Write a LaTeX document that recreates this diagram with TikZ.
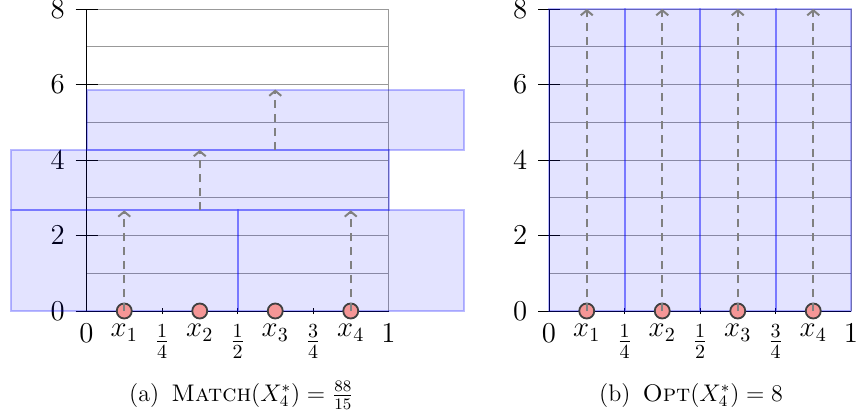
\documentclass[tikz,border=0pt]{standalone}
\usetikzlibrary{arrows.meta}
\definecolor{ptfill}{RGB}{245,150,150}
\tikzset{
  gridline/.style={black!40, line width=0.5pt},
  axisline/.style={black, line width=0.5pt},
  binbox/.style={fill=blue, fill opacity=0.11, draw=blue, draw opacity=0.27, line width=1pt},
  lift/.style={gray, line width=1pt, dash pattern=on 4pt off 3pt, -{Straight Barb[length=2.5pt,width=6pt]}},
  ball/.style={circle, fill=ptfill, draw=black!75, line width=0.9pt, minimum size=7.5pt, inner sep=0pt},
  ylab/.style={anchor=east, inner sep=0pt, font=\Large},
  xlab/.style={anchor=north, inner sep=0pt, font=\Large},
  captext/.style={anchor=base, inner sep=0pt, font=\large},
  panelaxes/.pic={
    \foreach \k in {1,...,8} \draw[gridline] (0,\k) -- (1,\k);
    \draw[gridline] (1,0) -- (1,8);
    \draw[axisline] (0,0) -- (0,8);
    \draw[axisline] (0,0) -- (1,0);
    \foreach \k in {0,2,4,6,8} {
      \draw[axisline] ([xshift=-5.5pt]0,\k) -- ([xshift=5.5pt]0,\k);
      \node[ylab] at ([xshift=-10.75pt]0,\k) {$\k$};
    }
    \foreach \t in {0.25,0.5,0.75} \draw[axisline] ([yshift=-1.5pt]\t,0) -- ([yshift=1.5pt]\t,0);
    \node[xlab] at ([yshift=-6.5pt]0,0) {$0$};
    \node[xlab] at ([yshift=-6.5pt]0.125,0) {$x_1$};
    \node[xlab] at ([yshift=-6.5pt]0.25,0) {$\frac{1}{4}$};
    \node[xlab] at ([yshift=-6.5pt]0.375,0) {$x_2$};
    \node[xlab] at ([yshift=-6.5pt]0.5,0) {$\frac{1}{2}$};
    \node[xlab] at ([yshift=-6.5pt]0.625,0) {$x_3$};
    \node[xlab] at ([yshift=-6.5pt]0.75,0) {$\frac{3}{4}$};
    \node[xlab] at ([yshift=-6.5pt]0.875,0) {$x_4$};
    \node[xlab] at ([yshift=-6.5pt]1,0) {$1$};
  }
}
\begin{document}
\begin{tikzpicture}
\useasboundingbox (0,0) rectangle (428pt,209.5pt);
% ---------------- panel (a)
\begin{scope}[shift={(43.25pt,54pt)}, x=151pt, y=18.875pt]
  \pic {panelaxes};
  \draw[binbox] (-0.25,0) rectangle (0.5,8/3);
  \draw[binbox] (0.5,0) rectangle (1.25,8/3);
  \draw[binbox] (-0.25,8/3) rectangle (1,64/15);
  \draw[binbox] (0,64/15) rectangle (1.25,88/15);
  \node[ball] (a1) at (0.125,0) {};
  \node[ball] (a2) at (0.375,0) {};
  \node[ball] (a3) at (0.625,0) {};
  \node[ball] (a4) at (0.875,0) {};
  \coordinate (a1t) at (0.125,8/3);
  \coordinate (a4t) at (0.875,8/3);
  \coordinate (a2s) at (0.375,8/3);
  \coordinate (a2t) at (0.375,64/15);
  \coordinate (a3s) at (0.625,64/15);
  \coordinate (a3t) at (0.625,88/15);
  \draw[lift] (a1.center) -- (a1t);
  \draw[lift] (a4.center) -- (a4t);
  \draw[lift] (a2s) -- (a2t);
  \draw[lift] (a3s) -- (a3t);
\end{scope}
% ---------------- panel (b)
\begin{scope}[shift={(274.5pt,54pt)}, x=151pt, y=18.875pt]
  \pic {panelaxes};
  \foreach \i in {0,1,2,3}
    \draw[binbox] (\i/4,0) rectangle ({(\i+1)/4},8);
  \node[ball] (b1) at (0.125,0) {};
  \node[ball] (b2) at (0.375,0) {};
  \node[ball] (b3) at (0.625,0) {};
  \node[ball] (b4) at (0.875,0) {};
  \coordinate (b1t) at (0.125,8);
  \coordinate (b2t) at (0.375,8);
  \coordinate (b3t) at (0.625,8);
  \coordinate (b4t) at (0.875,8);
  \draw[lift] (b1.center) -- (b1t);
  \draw[lift] (b2.center) -- (b2t);
  \draw[lift] (b3.center) -- (b3t);
  \draw[lift] (b4.center) -- (b4t);
\end{scope}
% ---------------- captions
\node[captext] (capa) at (120.75pt,9pt) {(a)\enspace\textsc{Match}$(X_4^*) = \frac{88}{15}$};
\node[captext] (capb) at (345.5pt,9pt) {(b)\enspace\textsc{Opt}$(X_4^*) = 8$};
\end{tikzpicture}
\end{document}
